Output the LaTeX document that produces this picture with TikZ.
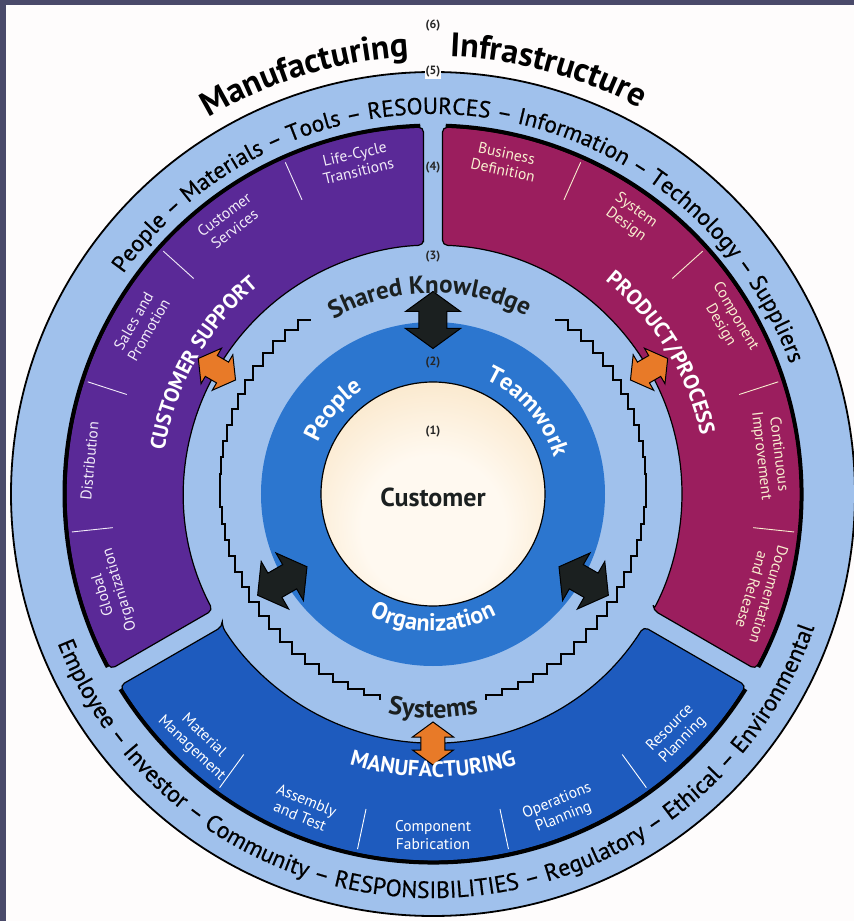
\documentclass[tikz,border=0pt]{standalone}
\usepackage{fontspec}
\setmainfont{PT Sans}
\newfontfamily\medfont[FakeBold=0.6]{PT Sans}
\usetikzlibrary{decorations.text}
\definecolor{slate}{HTML}{4A4A6A}
\definecolor{paper}{HTML}{FEFCFC}
\definecolor{lblue}{HTML}{A0C1EC}
\definecolor{purp}{HTML}{5A2997}
\definecolor{mag}{HTML}{9B1E5E}
\definecolor{mblue}{HTML}{1E5BBE}
\definecolor{rblue}{HTML}{2C76CF}
\definecolor{beigeC}{HTML}{FFF9F0}
\definecolor{beigeE}{HTML}{F2C98A}
\definecolor{orng}{HTML}{E87A28}
\definecolor{blk}{HTML}{1B2020}
\definecolor{cream}{HTML}{F8EECF}
\definecolor{pwhite}{HTML}{F2ECF8}
\pgfdeclareradialshading{custshade}{\pgfpoint{0bp}{-10bp}}{color(0bp)=(beigeC); color(16bp)=(beigeC); color(60bp)=(beigeE); color(64bp)=(beigeE)}
\newcommand\drawseg[3]{%
  \pgfmathsetmacro\sia{#1+2.19}\pgfmathsetmacro\soa{#1+1.48}%
  \pgfmathsetmacro\sob{#2-1.48}\pgfmathsetmacro\sib{#2-2.19}%
  \filldraw[fill=#3,draw=black,line width=1.2pt,rounded corners=5pt]
    (\sia:249) -- (\soa:367) arc[start angle=\soa,end angle=\sob,radius=367]
    -- (\sib:249) arc[start angle=\sib,end angle=\sia,radius=249] -- cycle;
  \draw[black,line width=4pt] (\soa+0.5:368.5) arc[start angle=\soa+0.5,end angle=\sob-0.5,radius=368.5];
}
% #1 angle, #2 centre radius, #3 half length, #4 head length, #5 head half width, #6 shaft half width, #7 fill
\newcommand\dblarrow[7]{%
  \begin{scope}[shift={(#1:#2)},rotate=#1]
  \filldraw[fill=#7,draw=black,line width=1pt,line join=miter]
   (-#3,0) -- (-#3+#4,#5) -- (-#3+#4,#6) -- (#3-#4,#6) -- (#3-#4,#5) -- (#3,0)
   -- (#3-#4,-#5) -- (#3-#4,-#6) -- (-#3+#4,-#6) -- (-#3+#4,-#5) -- cycle;
  \end{scope}}
\newcommand\arctext[5]{%
  \path[decorate,decoration={text along path,text align=center,text={|#4|#5}}]
    (#1:#3) arc[start angle=#1,end angle=#2,radius=#3];}
\begin{document}
\begin{tikzpicture}[x=1pt,y=1pt,
  sublab/.style={font=\fontsize{15.5}{17.5}\selectfont, align=center, inner sep=0pt},
  numlab/.style={font=\fontsize{12}{12}\selectfont\bfseries, text=black!85, inner sep=1pt}]
\useasboundingbox (-433,-427) rectangle (421,494);
\fill[slate] (-433,-427) rectangle (421,494);
\fill[paper] (-427,-427) rectangle (421,489);
% outer disk
\filldraw[fill=lblue,draw=black,line width=1.8pt] (0,0) circle[radius=422];
% segments
\drawseg{-30}{90}{mag}
\drawseg{90}{210}{purp}
\drawseg{210}{330}{mblue}
% ticks
\foreach \t in {114,138,162,186} \draw[pwhite,line width=0.9pt] (\t:322) -- (\t:363);
\foreach \t in {66,42,18,-6} \draw[cream,line width=0.9pt] (\t:322) -- (\t:363);
\foreach \t in {234,258,282,306} \draw[white,line width=0.9pt] (\t:322) -- (\t:363);
% blue ring and customer
\fill[rblue] (0,0) circle[radius=172];
\shade[shading=custshade] (0,0) circle[radius=112];
\draw[black,line width=1.2pt] (0,0) circle[radius=112];
% stepped lines
\draw[black,line width=2pt,line join=miter] (125:213) \foreach \t in {129.5,134,...,257}{ -| (\t:213)};
\draw[black,line width=2pt,line join=miter] (55:213) \foreach \t in {50.5,46,...,-77}{ -| (\t:213)};
% black arrows
\dblarrow{90}{174}{28.5}{20}{27.5}{14}{blk}
\dblarrow{210}{174}{28.5}{20}{27.5}{14}{blk}
\dblarrow{330}{174}{28.5}{20}{27.5}{14}{blk}
% orange arrows
\dblarrow{150}{249.5}{21.5}{15}{20.5}{12}{orng}
\dblarrow{30}{249.5}{21.5}{15}{20.5}{12}{orng}
\dblarrow{270}{249.5}{21.5}{15}{20.5}{12}{orng}
% title
\arctext{130}{84}{438}{\fontsize{34}{34}\selectfont\bfseries\color{black}}{Manufacturing}
\arctext{98}{51.6}{438}{\fontsize{34}{34}\selectfont\bfseries\color{black}}{Infrastructure}
% outer ring texts
\arctext{160}{4.6}{380}{\medfont\fontsize{23.2}{24}\selectfont\color{black}}{People – Materials – Tools – RESOURCES – Information – Technology – Suppliers}
\arctext{191.2}{351.2}{404}{\medfont\fontsize{23.6}{24}\selectfont\color{black}}{Employee – Investor – Community – RESPONSIBILITIES – Regulatory – Ethical – Environmental}
% segment titles
\arctext{190.4}{110.4}{272}{\fontsize{21}{21}\selectfont\bfseries\color{white}}{CUSTOMER SUPPORT}
\arctext{71.7}{-8.3}{274}{\fontsize{21.5}{21}\selectfont\bfseries\color{white}}{PRODUCT/PROCESS}
\arctext{230}{310}{283}{\fontsize{22}{22}\selectfont\bfseries\color{white}}{MANUFACTURING}
% inner ring texts
\arctext{137}{45}{201}{\fontsize{25}{25}\selectfont\bfseries\color{blk}}{Shared Knowledge}
\arctext{240}{300}{224}{\fontsize{26}{26}\selectfont\bfseries\color{blk}}{Systems}
\arctext{175}{105}{126}{\fontsize{24}{24}\selectfont\bfseries\color{white}}{People}
\arctext{76}{6}{126}{\fontsize{24}{24}\selectfont\bfseries\color{white}}{Teamwork}
\arctext{225}{315}{137}{\fontsize{24}{24}\selectfont\bfseries\color{white}}{Organization}
% sub labels purple
\node[sublab,text=pwhite,rotate=13] (lct) at (103:340) {Life-Cycle\\Transitions};
\node[sublab,text=pwhite,rotate=36.8] (cs) at (126.8:340) {Customer\\Services};
\node[sublab,text=pwhite,rotate=60] (sp) at (150:337) {Sales and\\Promotion};
\node[sublab,text=pwhite,rotate=84.5] (dis) at (174.5:345) {Distribution};
\node[sublab,text=pwhite,rotate=107] (go) at (197:336) {Global\\Organization};
% magenta
\node[sublab,text=cream,rotate=-12.2] (bd) at (77.8:340) {Business\\Definition};
\node[sublab,text=cream,rotate=-35.6] (sd) at (54.4:340) {System\\Design};
\node[sublab,text=cream,rotate=-59.6] (cd) at (30.4:342) {Component\\Design};
\node[sublab,text=cream,rotate=-83.4] (ci) at (6.6:339) {Continuous\\Improvement};
\node[sublab,text=cream,rotate=-106.7] (dr) at (-16.7:342) {Documentation\\and Release};
% manufacturing
\node[sublab,text=white,rotate=-43.5] (mm) at (226.5:342) {Material\\Management};
\node[sublab,text=white,rotate=-22.4] (at) at (247.6:340) {Assembly\\and Test};
\node[sublab,text=white] (cf) at (270:341) {Component\\Fabrication};
\node[sublab,text=white,rotate=22] (op) at (292:340) {Operations\\Planning};
\node[sublab,text=white,rotate=45.4] (rp) at (315.4:342) {Resource\\Planning};
% centre
\node[font=\fontsize{26}{26}\selectfont\bfseries,text=blk] (cust) at (0,-3) {Customer};
% numbers
\node[numlab] (n1) at (0,62) {(1)};
\node[numlab] (n2) at (0,131) {(2)};
\node[numlab] (n3) at (0,237) {(3)};
\node[numlab] (n4) at (0,326) {(4)};
\node[numlab,fill=paper] (n5) at (0,422) {(5)};
\node[numlab] (n6) at (0,468) {(6)};
\end{tikzpicture}
\end{document}
